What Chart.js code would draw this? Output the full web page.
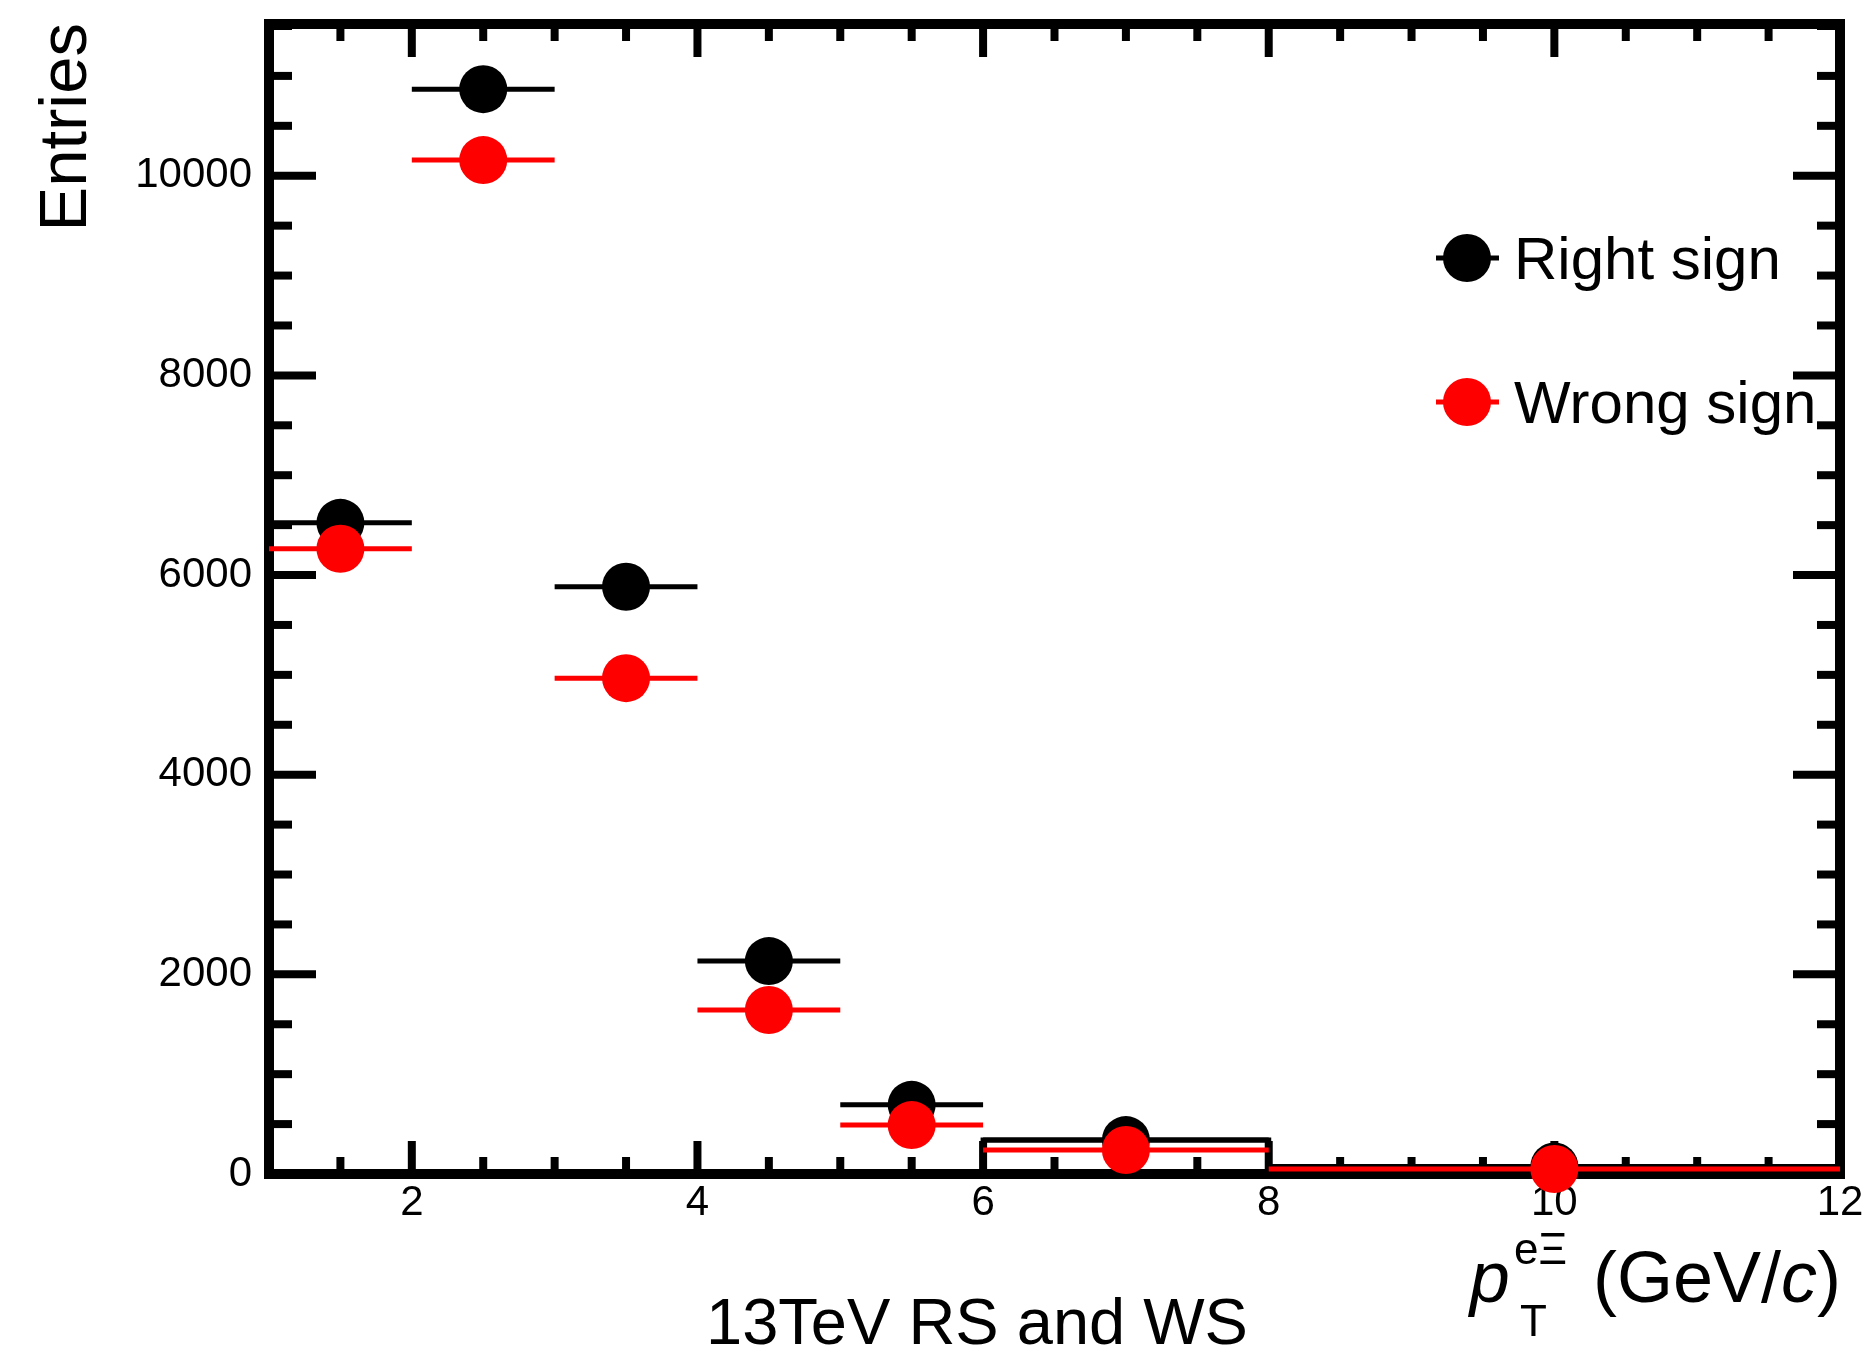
<!DOCTYPE html>
<html>
<head>
<meta charset="utf-8">
<script src="https://cdn.jsdelivr.net/npm/chart.js@4.4.1/dist/chart.umd.min.js"></script>
<style>
  html, body { margin: 0; padding: 0; background: #ffffff; }
  #wrap { width: 1865px; height: 1355px; }
</style>
</head>
<body>
<div id="wrap"><canvas id="c" width="1865" height="1355"></canvas></div>
<script>
// ---- data ----
const binEdges    = [1, 2, 3, 4, 5, 6, 8, 12];
const binCenters  = [1.5, 2.5, 3.5, 4.5, 5.5, 7, 10];
const rightSign   = [6523, 10867, 5883, 2133, 693, 340, 75];
const wrongSign   = [6263, 10157, 4967, 1643, 490, 240, 50];
const xTickValues = [2, 4, 6, 8, 10, 12];
const yTickValues = [0, 2000, 4000, 6000, 8000, 10000];
const seriesNames = ['Right sign', 'Wrong sign'];
const xMin = 1, xMax = 12, yMin = 0, yMax = 11520;
const outlineFromBin = 5; // black step outline drawn for the last bins

const FONT = "'Liberation Sans', Arial, Helvetica, sans-serif";
const BLACK = '#000000', RED = '#ff0000';

function markerData(vals) {
  return binCenters.map((c, i) => ({ x: c, y: vals[i] }));
}
function xErrData(vals) {
  const out = [];
  vals.forEach((v, i) => {
    out.push({ x: binEdges[i], y: v });
    out.push({ x: binEdges[i + 1], y: v });
    out.push({ x: binEdges[i + 1], y: null });
  });
  return out;
}
function outlineData(vals) {
  const out = [{ x: binEdges[outlineFromBin], y: 0 }];
  for (let i = outlineFromBin; i < vals.length; i++) {
    out.push({ x: binEdges[i], y: vals[i] });
    out.push({ x: binEdges[i + 1], y: vals[i] });
  }
  return out;
}

const rootPlugin = {
  id: 'rootStyle',
  beforeDatasetsDraw(chart) {
    const { ctx, chartArea: a, scales: { x, y } } = chart;
    ctx.save();
    ctx.strokeStyle = BLACK;
    ctx.lineCap = 'butt';
    ctx.lineWidth = 8;
    const seg = (x1, y1, x2, y2) => { ctx.beginPath(); ctx.moveTo(x1, y1); ctx.lineTo(x2, y2); ctx.stroke(); };
    for (let v = 500; v < yMax; v += 500) {
      const py = y.getPixelForValue(v);
      const len = (v % 2000 === 0) ? 47 : 23;
      seg(a.left, py, a.left + len, py);
      seg(a.right, py, a.right - len, py);
    }
    for (let v = xMin + 0.5; v < xMax; v += 0.5) {
      const px = x.getPixelForValue(v);
      const len = (v % 2 === 0) ? 33 : 17;
      seg(px, a.bottom, px, a.bottom - len);
      seg(px, a.top, px, a.top + len);
    }
    ctx.lineWidth = 10;
    ctx.lineJoin = 'miter';
    ctx.strokeRect(a.left, a.top, a.right - a.left, a.bottom - a.top);
    ctx.restore();
  },
  afterDatasetsDraw(chart) {
    const { ctx } = chart;
    ctx.save();
    // legend
    const items = [
      { name: seriesNames[0], color: BLACK, y: 258 },
      { name: seriesNames[1], color: RED, y: 402 }
    ];
    items.forEach(it => {
      ctx.strokeStyle = it.color;
      ctx.lineWidth = 5;
      ctx.beginPath(); ctx.moveTo(1436, it.y); ctx.lineTo(1499, it.y); ctx.stroke();
      ctx.fillStyle = it.color;
      ctx.beginPath(); ctx.arc(1467, it.y, 24, 0, Math.PI * 2); ctx.fill();
      ctx.fillStyle = BLACK;
      ctx.font = '60px ' + FONT;
      ctx.textAlign = 'left';
      ctx.textBaseline = 'alphabetic';
      ctx.fillText(it.name, 1514, it.y + 21);
    });
    ctx.restore();
  },
  afterDraw(chart) {
    const { ctx } = chart;
    ctx.save();
    ctx.fillStyle = BLACK;
    ctx.textBaseline = 'alphabetic';
    // y title
    ctx.save();
    ctx.translate(86, 23);
    ctx.rotate(-Math.PI / 2);
    ctx.font = '67px ' + FONT;
    ctx.textAlign = 'right';
    ctx.fillText('Entries', 0, 0);
    ctx.restore();
    // bottom caption
    ctx.font = '65px ' + FONT;
    ctx.textAlign = 'center';
    ctx.fillText('13TeV RS and WS', 977, 1344);
    // x title: p_T^{eΞ} (GeV/c)
    const big = '72px ' + FONT, bigI = 'italic 72px ' + FONT, small = '44px ' + FONT;
    const base = 1302;
    ctx.textAlign = 'left';
    const pieces = [
      { t: '(GeV/', f: big }, { t: 'c', f: bigI }, { t: ')', f: big }
    ];
    let w = 0;
    pieces.forEach(p => { ctx.font = p.f; p.w = ctx.measureText(p.t).width; w += p.w; });
    let xx = 1841 - w;
    const parenLeft = xx;
    pieces.forEach(p => { ctx.font = p.f; ctx.fillText(p.t, xx, base); xx += p.w; });
    ctx.font = small;
    const supW = ctx.measureText('eΞ').width;
    const supLeft = parenLeft - 26 - supW;
    ctx.fillText('eΞ', supLeft, base - 38);
    ctx.fillText('T', supLeft + 6, base + 34);
    ctx.font = bigI;
    const pW = ctx.measureText('p').width;
    ctx.fillText('p', supLeft - pW - 4, base);
    ctx.restore();
  }
};

Chart.defaults.font.family = FONT;
Chart.defaults.color = BLACK;

new Chart(document.getElementById('c'), {
  type: 'scatter',
  data: {
    datasets: [
      { label: 'WS markers', data: markerData(wrongSign), showLine: false,
        pointRadius: 24, pointHoverRadius: 24, pointBorderWidth: 0,
        pointBackgroundColor: RED, borderColor: RED, clip: false },
      { label: 'WS x-err', data: xErrData(wrongSign), showLine: true, spanGaps: false,
        pointRadius: 0, borderColor: RED, borderWidth: 5, clip: false },
      { label: 'RS markers', data: markerData(rightSign), showLine: false,
        pointRadius: 24, pointHoverRadius: 24, pointBorderWidth: 0,
        pointBackgroundColor: BLACK, borderColor: BLACK, clip: false },
      { label: 'RS x-err', data: xErrData(rightSign), showLine: true, spanGaps: false,
        pointRadius: 0, borderColor: BLACK, borderWidth: 5, clip: false },
      { label: 'RS outline', data: outlineData(rightSign), showLine: true,
        pointRadius: 0, borderColor: BLACK, borderWidth: 5, clip: false }
    ]
  },
  options: {
    responsive: false,
    devicePixelRatio: 1,
    animation: false,
    events: [],
    layout: { padding: { top: 23, right: 25, left: 0, bottom: 0 } },
    plugins: { legend: { display: false }, tooltip: { enabled: false }, title: { display: false } },
    scales: {
      x: {
        type: 'linear', min: xMin, max: xMax,
        grid: { display: false, drawTicks: false },
        border: { display: false },
        afterBuildTicks: s => { s.ticks = xTickValues.map(v => ({ value: v })); },
        afterFit: s => { s.height = 1355 - 1174; s.paddingLeft = 0; s.paddingRight = 0; },
        ticks: { font: { size: 42 }, padding: 4, maxRotation: 0, autoSkip: false,
                 callback: v => String(v) }
      },
      y: {
        type: 'linear', min: yMin, max: yMax,
        grid: { display: false, drawTicks: false },
        border: { display: false },
        afterBuildTicks: s => { s.ticks = yTickValues.map(v => ({ value: v })); },
        afterFit: s => { s.width = 269; s.paddingTop = 0; s.paddingBottom = 0; },
        ticks: { font: { size: 42 }, padding: 17, autoSkip: false,
                 callback: v => String(v) }
      }
    }
  },
  plugins: [rootPlugin]
});
</script>
</body>
</html>
